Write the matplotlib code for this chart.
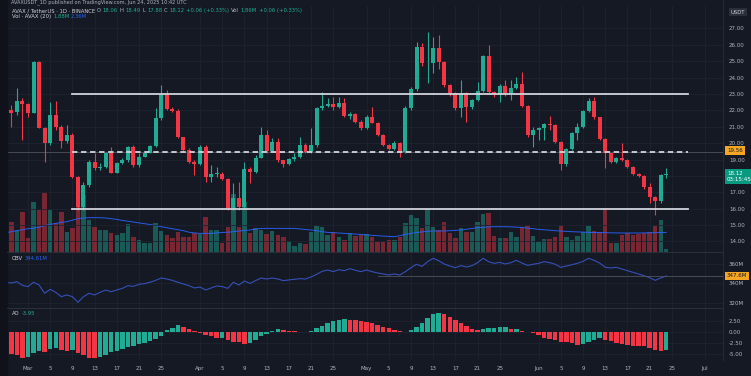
import matplotlib
matplotlib.use("Agg")
import matplotlib.pyplot as plt
import matplotlib.dates as mdates
import matplotlib.transforms as mtransforms
import numpy as np
import pandas as pd

# daily candles, Feb 25 -> Jun 24 2025
dates = pd.date_range("2025-02-25", periods=120, freq="D")

opens = [21.30, 22.02, 21.88, 22.57, 22.38, 21.85, 24.96, 20.94, 19.98, 21.71,
         20.96, 20.13, 20.47, 17.95, 16.12, 17.44, 18.87, 18.50, 18.56, 19.37,
         18.20, 18.77, 18.97, 19.74, 18.66, 19.17, 19.41, 19.82, 21.51, 22.93,
         22.06, 21.98, 20.35, 19.58, 18.83, 18.73, 19.78, 17.95, 18.11, 18.13,
         17.81, 16.02, 16.63, 16.08, 18.40, 18.26, 19.11, 20.49, 19.54, 20.08,
         18.97, 18.70, 19.01, 19.17, 19.88, 19.48, 19.88, 22.12, 22.26, 22.38,
         22.18, 22.42, 21.65, 21.75, 21.30, 20.90, 21.61, 21.24, 20.49, 19.88,
         19.64, 19.98, 19.48, 22.16, 23.28, 25.88, 24.86, 24.90, 25.78, 24.96,
         23.54, 23.07, 22.16, 23.03, 22.22, 22.63, 23.18, 25.31, 23.13, 22.93,
         23.48, 23.07, 23.38, 23.60, 22.26, 20.49, 20.80, 20.90, 21.14, 21.10,
         20.04, 18.70, 19.62, 20.63, 21.00, 21.96, 22.57, 21.57, 20.25, 19.37,
         18.87, 19.07, 19.00, 18.56, 18.11, 18.00, 17.30, 16.73, 16.49, 18.05]
highs = [22.50, 22.32, 23.34, 22.73, 22.46, 25.00, 25.00, 21.00, 22.53, 22.57,
         21.10, 21.10, 20.59, 17.99, 17.65, 18.97, 19.37, 18.77, 19.48, 19.78,
         18.87, 19.07, 19.82, 19.88, 19.37, 19.48, 19.88, 22.12, 23.54, 23.24,
         22.22, 22.06, 20.39, 19.68, 18.97, 19.88, 19.88, 18.66, 18.56, 18.26,
         17.85, 17.55, 17.65, 18.87, 18.56, 19.27, 21.00, 20.80, 20.29, 20.29,
         19.00, 19.07, 19.37, 20.39, 19.98, 20.90, 22.22, 23.13, 22.73, 22.83,
         22.83, 22.73, 21.90, 21.85, 21.40, 21.71, 22.22, 21.30, 20.55, 19.95,
         20.10, 20.05, 22.25, 23.40, 26.18, 26.08, 26.79, 26.49, 26.59, 25.00,
         23.60, 23.10, 23.85, 23.10, 22.70, 23.75, 25.40, 25.98, 23.20, 23.60,
         23.85, 23.85, 24.05, 24.35, 22.30, 21.00, 21.00, 21.20, 21.65, 21.15,
         20.10, 19.70, 20.70, 21.20, 22.00, 22.73, 22.83, 21.60, 20.30, 19.40,
         19.15, 19.98, 19.05, 18.60, 18.20, 18.05, 17.55, 16.80, 18.10, 18.46]
lows = [21.00, 21.00, 21.71, 20.19, 21.57, 21.81, 20.90, 18.87, 19.88, 20.80,
        19.68, 19.98, 17.85, 15.92, 15.92, 17.34, 18.36, 18.36, 18.46, 18.15,
        18.15, 18.73, 18.87, 18.56, 18.56, 19.13, 19.37, 19.78, 21.41, 22.02,
        21.92, 20.29, 19.54, 18.77, 18.05, 18.66, 17.65, 17.65, 17.95, 17.75,
        15.92, 15.92, 15.92, 16.02, 17.54, 18.20, 19.07, 19.41, 19.50, 18.87,
        18.56, 18.66, 18.93, 19.07, 19.37, 19.41, 19.78, 22.02, 22.18, 22.02,
        22.12, 21.60, 21.50, 21.20, 20.80, 20.85, 21.20, 20.45, 19.80, 19.55,
        19.55, 19.17, 19.40, 22.00, 23.20, 24.70, 23.64, 24.30, 24.50, 23.40,
        22.90, 22.00, 21.61, 21.30, 22.10, 22.55, 23.10, 23.00, 22.80, 22.53,
        22.90, 22.63, 23.30, 22.20, 20.40, 19.78, 20.19, 20.19, 20.80, 20.00,
        18.36, 18.60, 19.55, 20.19, 20.90, 21.90, 21.50, 20.20, 18.46, 18.80,
        18.80, 18.90, 18.50, 18.05, 17.95, 17.20, 16.33, 15.61, 16.33, 17.88]
closes = [22.00, 21.85, 22.57, 22.38, 21.85, 24.96, 20.94, 19.98, 21.71, 20.96,
          20.13, 20.47, 17.95, 16.12, 17.44, 18.87, 18.50, 18.56, 19.37, 18.20,
          18.77, 18.97, 19.74, 18.66, 19.17, 19.41, 19.82, 21.51, 22.93, 22.06,
          21.98, 20.35, 19.58, 18.83, 18.73, 19.78, 17.95, 18.11, 18.13, 17.81,
          16.02, 16.63, 16.08, 18.40, 18.26, 19.11, 20.49, 19.54, 20.08, 18.97,
          18.70, 19.01, 19.17, 19.88, 19.48, 19.88, 22.12, 22.26, 22.38, 22.18,
          22.42, 21.65, 21.75, 21.30, 20.90, 21.61, 21.24, 20.49, 19.88, 19.64,
          19.98, 19.48, 22.16, 23.28, 25.88, 24.86, 24.90, 25.78, 24.96, 23.54,
          23.07, 22.16, 23.03, 22.22, 22.63, 23.18, 25.31, 23.13, 22.93, 23.48,
          23.07, 23.38, 23.60, 22.26, 20.49, 20.80, 20.90, 21.14, 21.10, 20.04,
          18.70, 19.62, 20.63, 21.00, 21.96, 22.57, 21.57, 20.25, 19.37, 18.87,
          19.07, 19.00, 18.56, 18.11, 18.00, 17.30, 16.73, 16.49, 18.05, 18.12]

# volume in millions and its 20-day average
volume = [4.67, 3.00, 2.17, 4.00, 1.33, 4.93, 4.17, 5.84, 4.17, 2.83,
          4.00, 2.00, 2.33, 5.80, 5.70, 3.17, 2.50, 2.17, 2.17, 1.83,
          1.67, 1.83, 2.73, 1.50, 1.17, 0.83, 0.83, 2.83, 2.07, 1.67,
          1.33, 2.00, 1.50, 1.50, 1.83, 1.73, 3.50, 2.17, 2.17, 0.83,
          2.50, 5.80, 2.50, 5.00, 1.83, 2.33, 2.17, 1.73, 2.07, 1.67,
          1.50, 1.07, 0.60, 0.90, 0.73, 2.00, 2.57, 2.50, 1.67, 1.93,
          1.50, 1.17, 1.90, 1.60, 1.67, 1.73, 1.50, 0.93, 1.00, 1.17,
          1.17, 1.50, 2.83, 3.67, 3.40, 2.33, 4.27, 2.43, 2.17, 3.00,
          1.83, 1.40, 2.33, 1.93, 1.93, 3.00, 3.73, 3.83, 1.60, 1.33,
          1.40, 1.93, 1.50, 2.50, 2.67, 1.60, 0.93, 1.27, 1.27, 1.50,
          2.67, 1.50, 1.17, 1.60, 2.00, 2.57, 2.10, 1.93, 4.33, 0.83,
          0.83, 1.67, 1.90, 1.67, 1.73, 1.83, 1.93, 2.60, 3.17, 0.30]
vol_ma = [1.90, 2.00, 2.10, 2.20, 2.30, 2.35, 2.45, 2.60, 2.73, 2.83,
          2.93, 3.00, 3.15, 3.30, 3.37, 3.40, 3.40, 3.40, 3.37, 3.30,
          3.23, 3.13, 3.05, 2.97, 2.88, 2.80, 2.72, 2.60, 2.50, 2.40,
          2.30, 2.20, 2.10, 1.95, 1.88, 1.83, 1.83, 1.83, 1.88, 1.92,
          1.95, 2.00, 2.07, 2.12, 2.17, 2.25, 2.33, 2.33, 2.33, 2.33,
          2.33, 2.33, 2.33, 2.28, 2.22, 2.17, 2.10, 2.00, 1.93, 1.90,
          1.87, 1.83, 1.80, 1.76, 1.73, 1.68, 1.64, 1.60, 1.56, 1.53,
          1.50, 1.60, 1.73, 1.83, 1.92, 1.98, 2.04, 2.07, 2.07, 2.07,
          2.10, 2.13, 2.17, 2.25, 2.32, 2.40, 2.44, 2.48, 2.50, 2.50,
          2.50, 2.48, 2.45, 2.43, 2.36, 2.30, 2.23, 2.19, 2.15, 2.10,
          2.07, 2.03, 2.00, 1.98, 1.96, 1.93, 1.92, 1.91, 1.90, 1.89,
          1.88, 1.87, 1.87, 1.87, 1.87, 1.88, 1.89, 1.90, 1.92, 1.93]

# OBV (millions)
obv = [341.1, 340.4, 341.7, 337.9, 336.6, 341.1, 338.3, 329.7, 333.8, 330.7,
       326.2, 328.0, 326.2, 320.4, 326.2, 329.7, 328.0, 330.7, 333.1, 331.4,
       333.1, 334.8, 337.6, 336.9, 339.0, 339.7, 341.1, 343.1, 345.5, 344.5,
       343.1, 341.1, 339.3, 337.6, 335.2, 336.2, 333.1, 335.2, 337.3, 336.6,
       334.8, 341.1, 338.3, 342.4, 340.0, 342.8, 345.5, 344.5, 345.5, 344.5,
       342.8, 343.5, 344.2, 344.8, 344.5, 346.6, 349.3, 352.4, 353.8, 352.1,
       354.1, 353.1, 355.2, 353.5, 352.1, 353.8, 352.1, 350.7, 349.7, 348.6,
       349.7, 348.6, 352.1, 356.2, 359.7, 357.6, 362.4, 365.9, 363.4, 360.0,
       357.9, 356.2, 358.3, 356.9, 358.3, 361.4, 365.9, 362.4, 360.7, 361.7,
       360.0, 361.4, 363.8, 361.0, 358.6, 359.7, 360.7, 362.4, 361.4, 359.7,
       356.6, 357.9, 359.3, 360.7, 362.8, 365.9, 363.8, 361.0, 356.6, 355.9,
       356.6, 354.8, 353.1, 351.4, 349.7, 347.9, 345.9, 343.1, 345.5, 347.6]

# Awesome Oscillator
ao = [-4.70, -4.90, -5.10, -5.80, -5.50, -4.70, -4.30, -4.50, -3.70, -3.60,
      -3.90, -4.30, -3.90, -4.70, -5.20, -5.70, -5.80, -5.60, -5.10, -4.50,
      -4.20, -3.80, -3.40, -3.00, -2.65, -2.30, -1.90, -1.45, -0.90, 0.60,
      1.00, 1.60, 1.35, 0.75, 0.25, -0.15, -0.53, -0.90, -1.30, -1.15,
      -1.67, -2.05, -2.27, -2.58, -2.40, -1.70, -0.90, -0.40, 0.40, 0.75,
      0.60, 0.40, 0.25, 0.10, 0.15, 0.45, 1.00, 1.50, 2.10, 2.65,
      2.95, 3.10, 2.90, 2.80, 2.65, 2.40, 2.10, 1.75, 1.35, 1.00,
      0.60, 0.25, 0.10, 0.50, 1.20, 2.10, 3.25, 4.15, 4.40, 4.25,
      3.55, 2.90, 2.10, 1.50, 0.85, 0.55, 0.70, 1.00, 1.10, 1.15,
      1.20, 0.80, 0.85, 0.45, 0.10, -0.15, -0.55, -1.15, -1.50, -1.80,
      -2.05, -2.27, -2.40, -2.75, -2.60, -2.10, -1.75, -1.35, -1.75, -2.00,
      -2.40, -2.60, -2.90, -3.00, -3.05, -3.10, -3.45, -3.95, -4.15, -3.95]

# drawn levels
solid_levels = [23.0, 16.0]
dashed_level = 19.47
level_from, level_to = "2025-03-09", "2025-06-28"
obv_line_from = "2025-05-03"

price_ticks = [14, 15, 16, 17, 18, 19, 20, 21, 22, 23, 24, 25, 26, 27]
price_hidden = [18]   # covered by the last-price box
obv_ticks = [320, 340, 360]
ao_ticks = [-5.0, -2.5, 0.0, 2.5]
tick_dates = ["2025-03-01", "2025-03-05", "2025-03-09", "2025-03-13", "2025-03-17", "2025-03-21", "2025-03-25",
              "2025-04-01", "2025-04-05", "2025-04-09", "2025-04-13", "2025-04-17", "2025-04-21", "2025-04-25",
              "2025-05-01", "2025-05-05", "2025-05-09", "2025-05-13", "2025-05-17", "2025-05-21", "2025-05-25",
              "2025-06-01", "2025-06-05", "2025-06-09", "2025-06-13", "2025-06-17", "2025-06-21", "2025-06-25",
              "2025-07-01"]
tick_labels = ["Mar", "5", "9", "13", "17", "21", "25", "Apr", "5", "9", "13", "17", "21", "25",
               "May", "5", "9", "13", "17", "21", "25", "Jun", "5", "9", "13", "17", "21", "25", "Jul"]

# colours
bg = "#151924"
grid_c = "#1f2330"
txt = "#b2b5be"
up = "#22ab94"
down = "#f23645"
blue = "#2962ff"

W, H = 751, 376
fig = plt.figure(figsize=(W / 100, H / 100), dpi=100)
fig.patch.set_facecolor(bg)

x = mdates.date2num(dates.to_pydatetime())
o = np.array(opens); c = np.array(closes)
cols = [up if cc >= oo else down for oo, cc in zip(o, c)]

L, R = 7 / W, 723 / W
def rect(top, bottom):
    return [L, 1 - bottom / H, R - L, (bottom - top) / H]

axv = fig.add_axes(rect(6, 251.7))
ax = fig.add_axes(rect(6, 251.7), sharex=axv)
axo = fig.add_axes(rect(252.5, 307.5), sharex=axv)
axa = fig.add_axes(rect(308.5, 360), sharex=axv)

axv.set_facecolor(bg)
ax.patch.set_alpha(0)
for a in (axo, axa):
    a.set_facecolor(bg)

xmin = mdates.date2num(pd.Timestamp("2025-02-25")) + 0.22
xmax = xmin + 129.0
tx = mdates.date2num(pd.to_datetime(tick_dates).to_pydatetime())

# volume overlay
axv.bar(x, volume, width=0.8, color=cols, alpha=0.45, linewidth=0)
axv.plot(x, vol_ma, color=blue, lw=0.7, alpha=0.9)
axv.set_ylim(0, 24.57)
axv.set_yticks([])
axv.set_xlim(xmin, xmax)
for t in tx:
    axv.axvline(t, color=grid_c, lw=0.6, zorder=0)

# candles
ax.vlines(x, lows, highs, colors=cols, lw=0.8, zorder=3)
ax.bar(x, np.maximum(np.abs(c - o), 0.04), bottom=np.minimum(o, c), width=0.72,
       color=cols, linewidth=0, zorder=4)
ax.set_ylim(13.378, 28.36)
for p in price_ticks:
    ax.axhline(p, color=grid_c, lw=0.6, zorder=0)

lx0 = mdates.date2num(pd.Timestamp(level_from))
lx1 = mdates.date2num(pd.Timestamp(level_to))
for lv in solid_levels:
    ax.plot([lx0, lx1], [lv, lv], color="#d1d4dc", lw=1.3, zorder=5)
ax.axhline(dashed_level, color="#50535e", lw=0.6, zorder=1)
ax.plot([lx0, lx1], [dashed_level, dashed_level], color="#d1d4dc", lw=1.3,
        dashes=(3, 2), zorder=5)

ax.yaxis.tick_right()
ax.set_yticks(price_ticks)
ax.set_yticklabels(["" if p in price_hidden else f"{p:.2f}" for p in price_ticks])

# OBV pane
axo.plot(x, obv, color="#3550b8", lw=0.8)
ox0 = mdates.date2num(pd.Timestamp(obv_line_from))
axo.plot([ox0, xmax], [obv[-1], obv[-1]], color="#50535e", lw=0.6)
axo.set_ylim(315.0, 371.9)
axo.yaxis.tick_right()
axo.set_yticks(obv_ticks)
axo.set_yticklabels([f"{v}M" for v in obv_ticks])
for v in obv_ticks:
    axo.axhline(v, color=grid_c, lw=0.6, zorder=0)

# AO pane
ao_arr = np.array(ao)
ao_cols = [down] + [up if ao_arr[i] >= ao_arr[i - 1] else down for i in range(1, len(ao_arr))]
axa.bar(x, ao_arr, width=0.8, color=ao_cols, linewidth=0)
axa.set_ylim(-6.25, 5.45)
axa.yaxis.tick_right()
axa.set_yticks(ao_ticks)
axa.set_yticklabels([f"{v:.2f}" for v in ao_ticks])
for v in ao_ticks:
    axa.axhline(v, color=grid_c, lw=0.6, zorder=0)

for a in (axo, axa):
    for t in tx:
        a.axvline(t, color=grid_c, lw=0.6, zorder=0)

for a in (axv, ax, axo, axa):
    for s in a.spines.values():
        s.set_visible(False)
    a.tick_params(axis="y", length=0, labelsize=4, colors=txt, pad=4.3)
    a.tick_params(axis="x", length=0, labelbottom=False)
axa.set_xticks(tx)
axa.set_xticklabels(tick_labels)
axa.tick_params(axis="x", labelbottom=True, labelsize=4, colors=txt, pad=4.5)
axa.set_xlim(xmin, xmax)

# pane separators and left strip
for yy in (252.1, 308.0):
    fig.add_artist(plt.Line2D([L, R], [1 - yy / H] * 2, color="#2a2e39", lw=0.8))
fig.add_artist(plt.Line2D([R, R], [1 - 360 / H, 1], color="#2a2e39", lw=0.6))
fig.add_artist(plt.Rectangle((0, 0), L, 1, color="#0f121a", transform=fig.transFigure))

# axis value boxes
def axis_box(axis, yval, label, fc, tc):
    tr = mtransforms.blended_transform_factory(axis.transAxes, axis.transData)
    axis.text(1.0 + 4 / (R * W - L * W), yval, label, transform=tr, fontsize=4, color=tc,
              va="center", ha="left", zorder=10, clip_on=False,
              bbox=dict(boxstyle="square,pad=0.35", fc=fc, ec="none"))

axis_box(ax, 19.56, "19.56", "#f5a623", "#131722")
axis_box(ax, 17.95, "18.12\n03:15:45", "#089981", "white")
axis_box(axo, 347.6, "347.6M", "#f5a623", "#131722")
fig.text(738 / W, 1 - 12 / H, "USDT", fontsize=3.8, color="#d1d4dc", ha="center", va="center",
         bbox=dict(boxstyle="square,pad=0.3", fc="#2a2e39", ec="none"))

# header / legend rows
renderer = fig.canvas.get_renderer()
def segments(x_px, y_px, parts, size=3.8):
    for s, col in parts:
        t = fig.text(x_px / W, 1 - y_px / H, s, color=col, fontsize=size, va="center", ha="left")
        x_px += t.get_window_extent(renderer).width + 1.8

segments(11, 2, [("AVAXUSDT_1D published on TradingView.com, Jun 24, 2025 10:42 UTC", txt)], 3.6)
segments(12, 10.7, [("AVAX / TetherUS · 1D · BINANCE", "#d1d4dc"), ("O", txt), ("18.06", up),
                    ("H", txt), ("18.49", up), ("L", txt), ("17.88", up), ("C", txt), ("18.12", up),
                    ("+0.06 (+0.33%)", up), ("Vol", txt), ("1.86M", up), ("+0.06 (+0.33%)", up)])
segments(12, 16.2, [("Vol · AVAX (20)", "#d1d4dc"), ("1.88M", up), ("2.36M", blue)])
segments(12, 258, [("OBV", "#d1d4dc"), ("344.61M", blue)])
segments(12, 313.5, [("AO", "#d1d4dc"), (f"{ao[-1]:.2f}", up)])

fig.savefig("out.png", dpi=100, facecolor=bg)
